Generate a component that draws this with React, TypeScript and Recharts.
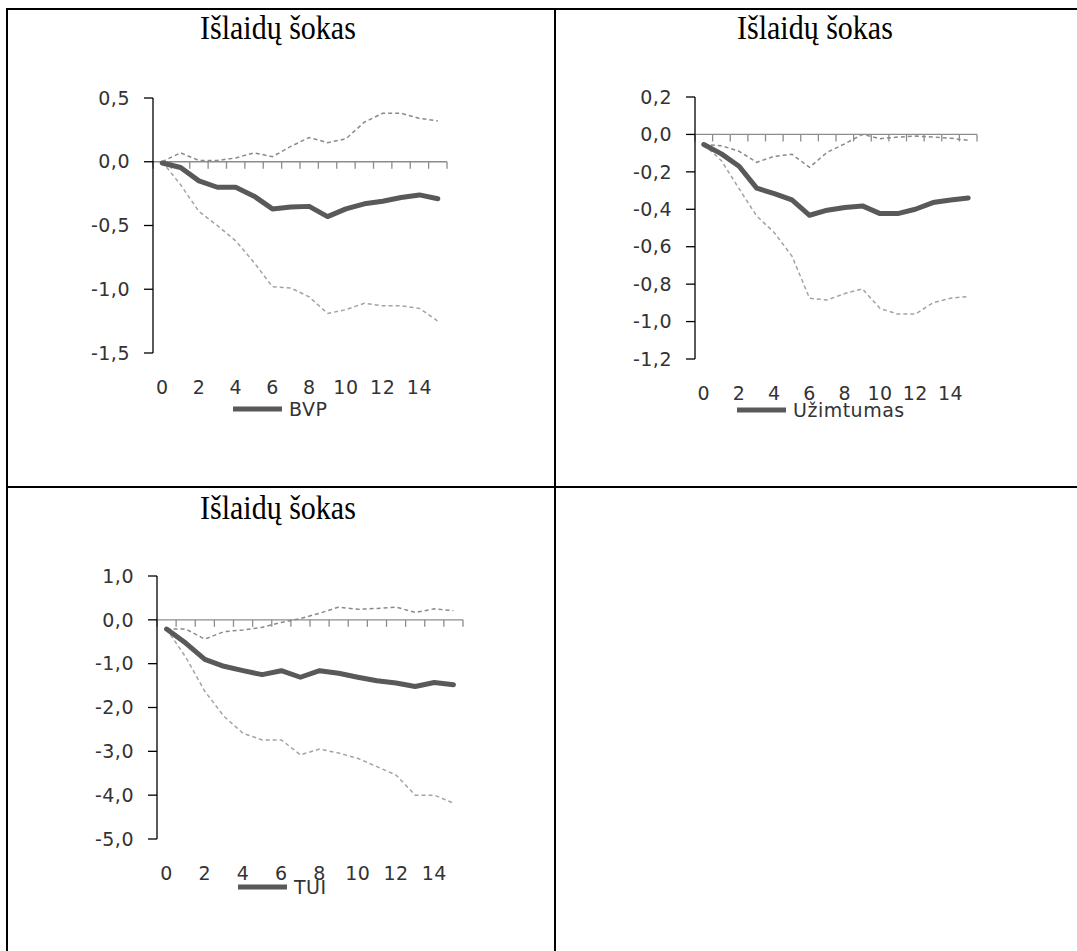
import { Legend, Line, LineChart, ReferenceLine, XAxis, YAxis } from 'recharts'

// horizon (quarters after the shock)
const periods = [0, 1, 2, 3, 4, 5, 6, 7, 8, 9, 10, 11, 12, 13, 14, 15]
const xTicks = [0, 2, 4, 6, 8, 10, 12, 14]

// BVP
const bvpMain = [-0.01, -0.045, -0.15, -0.2, -0.2, -0.27, -0.37, -0.355, -0.35, -0.43, -0.37, -0.33, -0.31, -0.28, -0.26, -0.29]
const bvpUpper = [0.0, 0.07, 0.01, 0.01, 0.03, 0.07, 0.04, 0.12, 0.19, 0.15, 0.18, 0.31, 0.38, 0.38, 0.34, 0.32]
const bvpLower = [0.0, -0.18, -0.39, -0.5, -0.62, -0.79, -0.98, -0.99, -1.06, -1.19, -1.16, -1.11, -1.13, -1.13, -1.15, -1.25]
const bvpTicks = [-1.5, -1.0, -0.5, 0.0, 0.5]

// Užimtumas
const uzMain = [-0.054, -0.104, -0.17, -0.287, -0.316, -0.35, -0.432, -0.405, -0.39, -0.382, -0.423, -0.423, -0.4, -0.364, -0.35, -0.34]
const uzUpper = [-0.054, -0.06, -0.09, -0.149, -0.117, -0.106, -0.176, -0.095, -0.05, 0.0, -0.023, -0.014, -0.009, -0.014, -0.02, -0.032]
const uzLower = [-0.054, -0.14, -0.29, -0.436, -0.525, -0.65, -0.875, -0.885, -0.85, -0.825, -0.93, -0.96, -0.96, -0.9, -0.875, -0.866]
const uzTicks = [-1.2, -1.0, -0.8, -0.6, -0.4, -0.2, 0.0, 0.2]

// TUI
const tuiMain = [-0.21, -0.53, -0.9, -1.06, -1.16, -1.25, -1.16, -1.31, -1.16, -1.22, -1.31, -1.39, -1.44, -1.52, -1.43, -1.48]
const tuiUpper = [-0.21, -0.21, -0.44, -0.27, -0.23, -0.17, -0.06, 0.03, 0.15, 0.29, 0.24, 0.26, 0.29, 0.17, 0.25, 0.21]
const tuiLower = [-0.21, -0.85, -1.63, -2.2, -2.59, -2.74, -2.74, -3.08, -2.95, -3.04, -3.16, -3.35, -3.54, -4.0, -4.0, -4.18]
const tuiTicks = [-5, -4, -3, -2, -1, 0, 1]

const title = 'Išlaidų šokas'

const toRows = (main: number[], upper: number[], lower: number[]) =>
  periods.map((t, i) => ({ t, main: main[i], upper: upper[i], lower: lower[i] }))

const fmt = (v: number) => v.toFixed(1).replace('.', ',')

const font = 'DejaVu Sans, Verdana, sans-serif'
const textColor = '#333'
const tickFont = { fill: textColor, fontSize: 19, fontFamily: font, letterSpacing: 0.5 }

// zero line doubles as the category axis, with marks between categories
const ZeroAxis = (props: any) => {
  const { x1, x2, y1 } = props
  const n = periods.length
  const step = (x2 - x1) / n
  return (
    <g>
      <line x1={x1} x2={x2} y1={y1} y2={y1} stroke="#8c8c8c" strokeWidth={1.3} />
      {Array.from({ length: n + 1 }, (_, k) => (
        <line
          key={k}
          x1={x1 + k * step}
          x2={x1 + k * step}
          y1={y1}
          y2={y1 + 7}
          stroke="#8c8c8c"
          strokeWidth={1.3}
        />
      ))}
    </g>
  )
}

const LegendKey = ({ label }: { label: string }) => (
  <div
    style={{
      display: 'flex',
      alignItems: 'center',
      height: 20,
      fontFamily: font,
      fontSize: 19,
      letterSpacing: 0.5,
      lineHeight: '20px',
      color: textColor,
      whiteSpace: 'nowrap',
    }}
  >
    <svg width={49} height={8}>
      <line x1={0} x2={49} y1={4} y2={4} stroke="#595959" strokeWidth={5} />
    </svg>
    <span style={{ marginLeft: 7 }}>{label}</span>
  </div>
)

interface PanelProps {
  name: string
  rows: Array<{ t: number; main: number; upper: number; lower: number }>
  yTicks: number[]
  left: number
  top: number
  width: number
  height: number
  margin: { top: number; right: number; bottom: number; left: number }
  legendAt: { left: number; top: number }
}

function Panel({ name, rows, yTicks, left, top, width, height, margin, legendAt }: PanelProps) {
  return (
    <div style={{ position: 'absolute', left, top }}>
      <LineChart width={width} height={height} data={rows} margin={margin}>
        <XAxis
          dataKey="t"
          type="number"
          domain={[-0.5, 15.5]}
          ticks={xTicks}
          interval={0}
          axisLine={false}
          tickLine={false}
          tickSize={0}
          tickMargin={28}
          height={40}
          tick={tickFont}
        />
        <YAxis
          type="number"
          domain={[yTicks[0], yTicks[yTicks.length - 1]]}
          ticks={yTicks}
          interval={0}
          width={60}
          tickFormatter={fmt}
          axisLine={{ stroke: '#000', strokeWidth: 1.3 }}
          tickLine={{ stroke: '#000', strokeWidth: 1.3 }}
          tickSize={9}
          tickMargin={14}
          tick={tickFont}
        />
        <ReferenceLine y={0} shape={ZeroAxis} />
        <Line
          dataKey="upper"
          stroke="#8a8a8a"
          strokeWidth={1.5}
          strokeDasharray="4 3"
          dot={false}
          isAnimationActive={false}
          legendType="none"
        />
        <Line
          dataKey="lower"
          stroke="#a3a3a3"
          strokeWidth={1.5}
          strokeDasharray="4 3"
          dot={false}
          isAnimationActive={false}
          legendType="none"
        />
        <Line
          dataKey="main"
          name={name}
          stroke="#595959"
          strokeWidth={5}
          strokeLinejoin="round"
          strokeLinecap="round"
          dot={false}
          isAnimationActive={false}
        />
        <Legend
          layout="vertical"
          align="center"
          verticalAlign="middle"
          content={() => <LegendKey label={name} />}
          wrapperStyle={{ left: legendAt.left, top: legendAt.top, width: 'auto', height: 20 }}
        />
      </LineChart>
    </div>
  )
}

const Title = ({ left, top }: { left: number; top: number }) => (
  <div
    style={{
      position: 'absolute',
      left,
      top,
      fontFamily: 'Liberation Serif, Times New Roman, serif',
      fontSize: 30,
      lineHeight: '30px',
      color: '#000',
      whiteSpace: 'nowrap',
      transform: 'scaleY(1.12)',
      transformOrigin: '0 25px',
    }}
  >
    {title}
  </div>
)

const rule = (left: number, top: number, width: number, height: number) => (
  <div style={{ position: 'absolute', left, top, width, height, background: '#000' }} />
)

export default function App() {
  return (
    <div
      style={{
        position: 'absolute',
        left: 0,
        top: 0,
        width: 1077,
        height: 951,
        overflow: 'hidden',
        background: '#fff',
      }}
    >
      {rule(6, 8, 1100, 2)}
      {rule(6, 8, 2, 960)}
      {rule(554, 8, 2, 960)}
      {rule(6, 486, 1100, 2)}

      <Title left={200} top={14} />
      <Title left={737} top={14} />
      <Title left={200} top={494} />

      <Panel
        name="BVP"
        rows={toRows(bvpMain, bvpUpper, bvpLower)}
        yTicks={bvpTicks}
        left={40}
        top={70}
        width={440}
        height={390}
        margin={{ top: 28, right: 33, bottom: 67, left: 53 }}
        legendAt={{ left: 193, top: 329 }}
      />
      <Panel
        name="Užimtumas"
        rows={toRows(uzMain, uzUpper, uzLower)}
        yTicks={uzTicks}
        left={580}
        top={70}
        width={440}
        height={390}
        margin={{ top: 27, right: 43, bottom: 61, left: 55 }}
        legendAt={{ left: 157, top: 330 }}
      />
      <Panel
        name="TUI"
        rows={toRows(tuiMain, tuiUpper, tuiLower)}
        yTicks={tuiTicks}
        left={40}
        top={540}
        width={460}
        height={390}
        margin={{ top: 36, right: 37, bottom: 51, left: 57 }}
        legendAt={{ left: 198, top: 337 }}
      />
    </div>
  )
}
